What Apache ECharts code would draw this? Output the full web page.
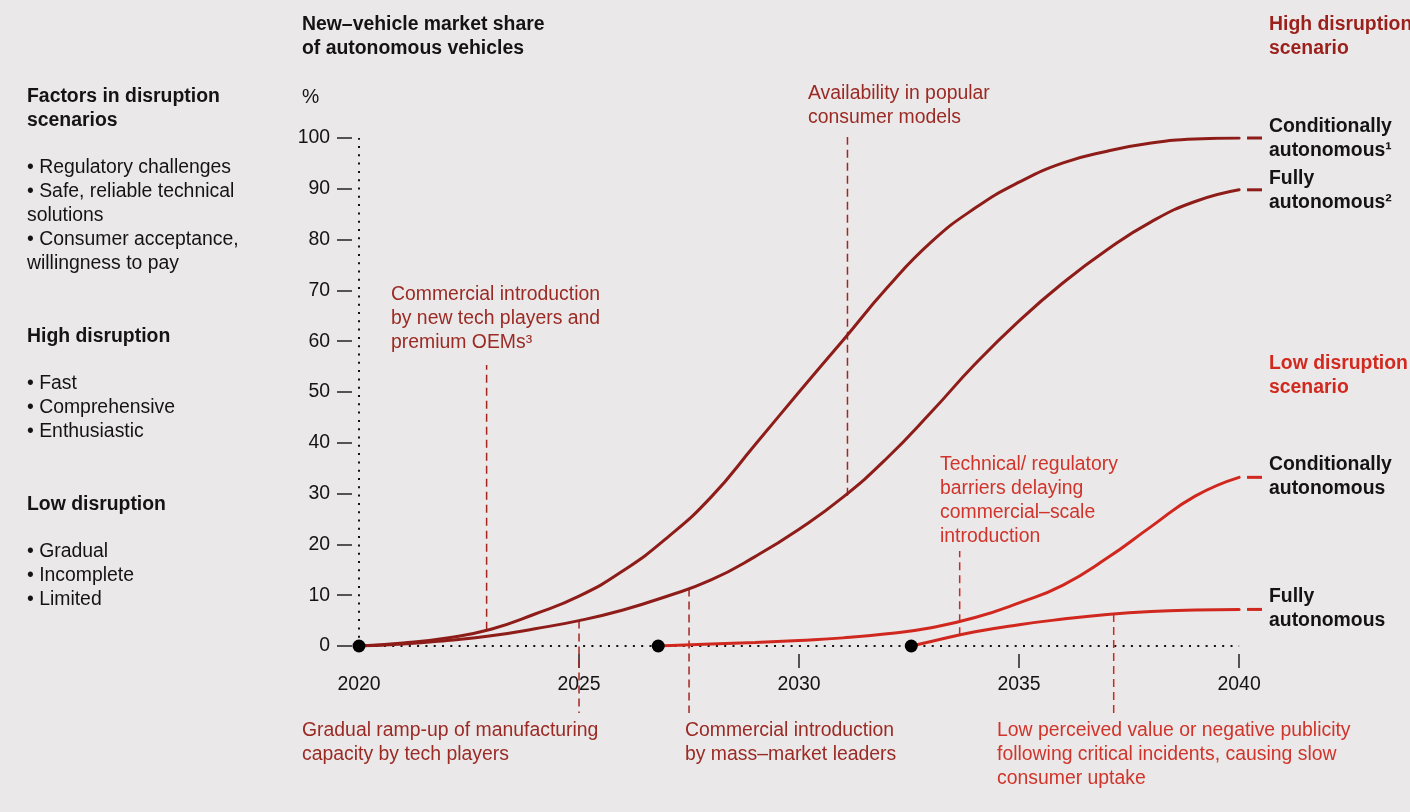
<!DOCTYPE html>
<html>
<head>
<meta charset="utf-8">
<title>New-vehicle market share of autonomous vehicles</title>
<script src="https://cdn.jsdelivr.net/npm/echarts@6/dist/echarts.min.js"></script>
<style>
  html, body { margin: 0; padding: 0; background: #EAE8E9; }
  #chart { width: 1410px; height: 812px; }
</style>
</head>
<body>
<div id="chart"></div>
<script>
// ---- data -------------------------------------------------------------
const years = [2020, 2021, 2022, 2023, 2024, 2025, 2026, 2027, 2028, 2029, 2030,
               2031, 2032, 2033, 2034, 2035, 2036, 2037, 2038, 2039, 2040];

// High disruption scenario, % of new-vehicle sales
const highConditional = [0, 0.6, 1.6, 3.3, 6.3, 9.8, 14.8, 21.3, 29.3, 39.6, 50,
                         60.2, 70.5, 79.5, 86.2, 91.3, 95.1, 97.4, 99, 99.8, 100];
const highFully = [0, 0.4, 1.1, 2.0, 3.4, 5.0, 7.1, 9.8, 13.0, 17.6, 23,
                   29.3, 37, 46, 55.5, 64, 71.5, 78, 83.5, 87.5, 89.8];

// Low disruption scenario, % of new-vehicle sales
const lowConditionalYears = [2026.8, 2028, 2029, 2030, 2031, 2032, 2033, 2034, 2035, 2036, 2037, 2038, 2039, 2040];
const lowConditional = [0, 0.4, 0.7, 1.1, 1.6, 2.4, 3.6, 5.6, 8.5, 12, 17.3, 23.5, 29.5, 33.2];
const lowFullyYears = [2032.55, 2033, 2034, 2035, 2036, 2037, 2038, 2039, 2040];
const lowFully = [0, 0.9, 2.8, 4.2, 5.3, 6.2, 6.8, 7.1, 7.2];

// Launch points of each curve group
const startYears = [2020, 2026.8, 2032.55];

// Axis ticks
const yTickValues = [0, 10, 20, 30, 40, 50, 60, 70, 80, 90, 100];
const xLabelValues = [2020, 2025, 2030, 2035, 2040];
const xTickValues = [2025, 2030, 2035, 2040];

// Milestone markers: year, lower and upper end of the dashed guide (in %)
const markerYears = [2022.9, 2025.0, 2027.5, 2031.1, 2033.65, 2037.15];
const markerFrom  = [3.2, 5.0, 11.3, 29.6, 2.1, 6.3];
const markerTo    = [55.3, -13.2, -13.2, 100.2, 18.7, -13.2];
const markerTone  = ['high', 'high', 'high', 'high', 'low', 'low'];

// ---- styling ----------------------------------------------------------
const HIGH = '#8E1D19';
const LOW = '#D0281E';
const HIGH_TEXT = '#9B2A24';
const LOW_TEXT = '#D0342A';
const INK = '#141414';
const FONT = '"Liberation Sans", Arial, Helvetica, sans-serif';
const FS = 19.4;

const pairs = (xs, ys) => xs.map((x, i) => [x, ys[i]]);
const last = arr => arr[arr.length - 1];

// Short dash that continues each curve past 2040 toward its label
const tailStart = 2040.18, tailEnd = 2040.52;

function curve(name, data, color) {
  return {
    name, type: 'line', data, color,
    showSymbol: false, smooth: 0.5,
    lineStyle: { width: 3, color, cap: 'round' },
    z: 5, silent: true
  };
}
function tail(value, color) {
  return {
    type: 'line', data: [[tailStart, value], [tailEnd, value]],
    showSymbol: false, clip: false,
    lineStyle: { width: 3, color, cap: 'butt' }, z: 5, silent: true
  };
}

const series = [];

// dotted frame: baseline at 0 and the vertical line at 2020
series.push({
  type: 'line', data: [[2020, 0], [2040, 0]], showSymbol: false, silent: true,
  lineStyle: { color: '#111', width: 2, type: [2, 6.3], cap: 'butt' }, z: 2
});
series.push({
  type: 'line', data: [[2020, 0], [2020, 100]], showSymbol: false, silent: true,
  lineStyle: { color: '#111', width: 2, type: [2, 6.3], cap: 'butt' }, z: 2
});

// milestone guides
markerYears.forEach((yr, i) => {
  series.push({
    type: 'line', data: [[yr, markerFrom[i]], [yr, markerTo[i]]],
    showSymbol: false, clip: false, silent: true,
    lineStyle: { color: markerTone[i] === 'high' ? '#A3261F' : LOW, width: 1.5, type: [8, 5], cap: 'butt' },
    z: 3
  });
});

series.push(curve('High conditional', pairs(years, highConditional), HIGH));
series.push(curve('High fully', pairs(years, highFully), HIGH));
series.push(curve('Low conditional', pairs(lowConditionalYears, lowConditional), LOW));
series.push(curve('Low fully', pairs(lowFullyYears, lowFully), LOW));
series.push(tail(last(highConditional), HIGH));
series.push(tail(last(highFully), HIGH));
series.push(tail(last(lowConditional), LOW));
series.push(tail(last(lowFully), LOW));

series.push({
  type: 'scatter', data: startYears.map(y => [y, 0]),
  symbolSize: 13, itemStyle: { color: '#000', opacity: 1 }, z: 8, silent: true
});

// ---- text -------------------------------------------------------------
function text(x, centerY, str, opts = {}) {
  return {
    type: 'text', x, y: centerY - 11.5, silent: true,
    style: {
      text: str, fill: opts.fill || INK, fontFamily: FONT, fontSize: FS,
      fontWeight: opts.bold ? 'bold' : 'normal', lineHeight: 24,
      verticalAlign: 'top', align: 'left'
    }
  };
}

const graphic = [
  text(302, 24, 'New–vehicle market share\nof autonomous vehicles', { bold: true }),
  text(302, 97, '%'),

  text(27, 96, 'Factors in disruption\nscenarios', { bold: true }),
  text(27, 167, '• Regulatory challenges\n• Safe, reliable technical\nsolutions\n• Consumer acceptance,\nwillingness to pay'),
  text(27, 336, 'High disruption', { bold: true }),
  text(27, 383, '• Fast\n• Comprehensive\n• Enthusiastic'),
  text(27, 504, 'Low disruption', { bold: true }),
  text(27, 551, '• Gradual\n• Incomplete\n• Limited'),

  text(1269, 24, 'High disruption\nscenario', { bold: true, fill: '#9B1F1A' }),
  text(1269, 126, 'Conditionally\nautonomous¹', { bold: true }),
  text(1269, 178, 'Fully\nautonomous²', { bold: true }),
  text(1269, 363, 'Low disruption\nscenario', { bold: true, fill: '#D2291F' }),
  text(1269, 464, 'Conditionally\nautonomous', { bold: true }),
  text(1269, 596, 'Fully\nautonomous', { bold: true }),

  text(391, 294, 'Commercial introduction\nby new tech players and\npremium OEMs³', { fill: HIGH_TEXT }),
  text(808, 93, 'Availability in popular\nconsumer models', { fill: HIGH_TEXT }),
  text(940, 464, 'Technical/ regulatory\nbarriers delaying\ncommercial–scale\nintroduction', { fill: LOW_TEXT }),
  text(302, 730, 'Gradual ramp-up of manufacturing\ncapacity by tech players', { fill: HIGH_TEXT }),
  text(685, 730, 'Commercial introduction\nby mass–market leaders', { fill: HIGH_TEXT }),
  text(997, 730, 'Low perceived value or negative publicity\nfollowing critical incidents, causing slow\nconsumer uptake', { fill: LOW_TEXT })
];

// ---- chart ------------------------------------------------------------
const chart = echarts.init(document.getElementById('chart'), null, { renderer: 'canvas' });
chart.setOption({
  backgroundColor: '#EAE8E9',
  animation: false,
  grid: { left: 359, right: 148, top: 138, bottom: 166, containLabel: false },
  xAxis: {
    type: 'value', min: 2020, max: tailEnd, interval: 5, offset: 8,
    axisLine: { show: false, onZero: false },
    splitLine: { show: false },
    axisTick: { show: true, length: 14, lineStyle: { color: '#222', width: 1.5 }, customValues: xTickValues },
    axisLabel: {
      margin: 21, color: INK, fontSize: FS, fontFamily: FONT, customValues: xLabelValues,
      formatter: v => String(v)
    }
  },
  yAxis: {
    type: 'value', min: 0, max: 100, interval: 10, offset: 7,
    axisLine: { show: false, onZero: false },
    splitLine: { show: false },
    axisTick: { show: true, length: 15, lineStyle: { color: '#222', width: 1.5 }, customValues: yTickValues },
    axisLabel: { margin: 22, color: INK, fontSize: FS, fontFamily: FONT, customValues: yTickValues }
  },
  series,
  graphic
});
</script>
</body>
</html>
